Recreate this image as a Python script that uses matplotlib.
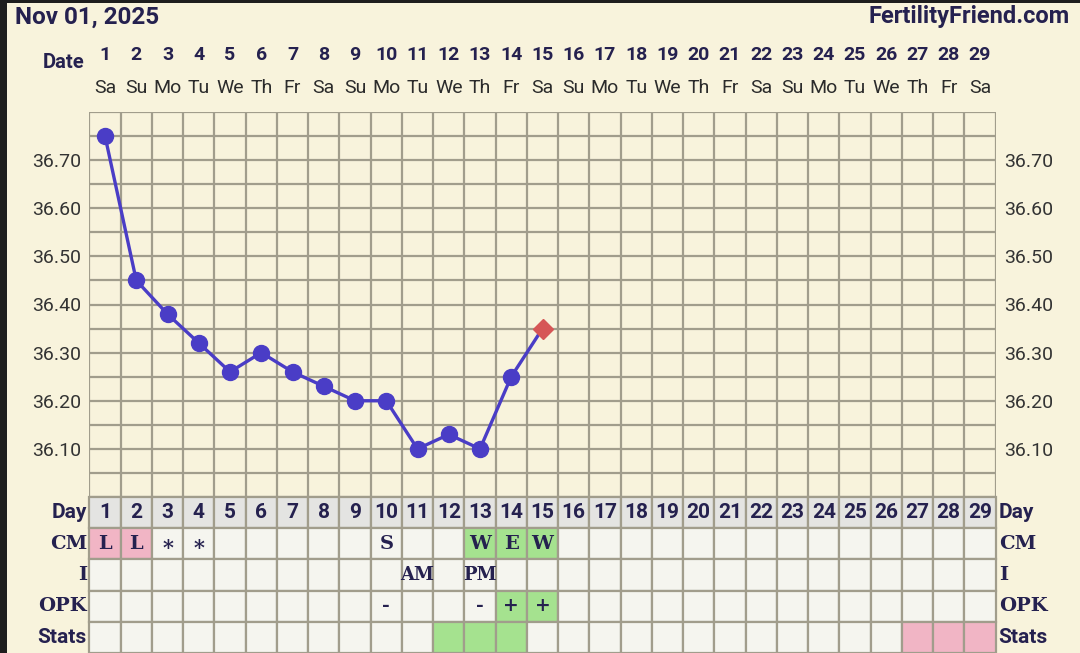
import matplotlib.pyplot as plt
from matplotlib.patches import Rectangle
import numpy as np

# chart data
days = list(range(1, 30))
weekdays = ["Sa", "Su", "Mo", "Tu", "We", "Th", "Fr"] * 5
temp_days = list(range(1, 16))
temps = [36.75, 36.45, 36.38, 36.32, 36.26, 36.30, 36.26, 36.23,
         36.20, 36.20, 36.10, 36.13, 36.10, 36.25, 36.35]
open_day = 15  # last reading drawn as diamond

cm_days = [1, 2, 3, 4, 10, 13, 14, 15]
cm_vals = ["L", "L", "*", "*", "S", "W", "E", "W"]
i_days = [11, 13]
i_vals = ["AM", "PM"]
opk_days = [10, 13, 14, 15]
opk_vals = ["-", "-", "+", "+"]
stats_green = [12, 13, 14]
stats_pink = [27, 28, 29]

BG = "#f8f3dc"
GRID = "#a19d8c"
INK = "#25214f"
LINE = "#4a3dc6"
PINK = "#f1b5c5"
GREEN = "#a5e28f"
CELL = "#f5f5ef"
HEAD = "#e4e4e2"

fig = plt.figure(figsize=(10.8, 6.53), dpi=100, facecolor=BG)
W, H = 1080, 653
x0, x1 = 89.4, 995.6
ytop, ymid = 112, 497

ax = fig.add_axes([x0 / W, (H - ymid) / H, (x1 - x0) / W, (ymid - ytop) / H])
ax.set_facecolor(BG)
ax.set_xlim(0.5, 29.5)
ax.set_ylim(36.0, 36.8)
for x in np.arange(0.5, 30, 1):
    ax.axvline(x, color=GRID, lw=1.6, zorder=1)
for y in np.arange(36.0, 36.81, 0.05):
    ax.axhline(y, color=GRID, lw=1.6, zorder=1)
for s in ax.spines.values():
    s.set_visible(False)
ax.set_xticks([])
ax.set_yticks(np.arange(36.1, 36.71, 0.1))
ax.set_yticklabels([f"{v:.2f}" for v in np.arange(36.1, 36.71, 0.1)],
                   fontsize=14, color="#333333", family="Roboto")
ax.tick_params(axis="y", length=0, pad=6, labelright=True)

ax.plot(temp_days, temps, color=LINE, lw=2.4, zorder=3)
ax.plot(temp_days[:-1], temps[:-1], "o", color=LINE, ms=11.5, zorder=4)
ax.plot([open_day], [temps[-1]], "D", color="#d65656", ms=10.5, zorder=4)

# header text
fig.text(15 / W, 1 - 17 / H, "Nov 01, 2025", fontsize=17.5, fontweight="bold",
         color=INK, family="Roboto", va="center")
fig.text(1070 / W, 1 - 17 / H, "FertilityFriend.com", fontsize=17, fontweight="bold",
         color=INK, family="Roboto", va="center", ha="right")
fig.text(84 / W, 1 - 63 / H, "Date", fontsize=14.5, fontweight="bold",
         color=INK, family="Roboto", va="center", ha="right")
for d, wd in zip(days, weekdays):
    xf = x0 / W + (d - 0.5) * (x1 - x0) / 29 / W
    fig.text(xf, 1 - 55 / H, str(d), fontsize=14, fontweight="bold", color=INK,
             family="Roboto", ha="center", va="center")
    fig.text(xf, 1 - 88 / H, wd, fontsize=14, color="#2b2b2b",
             family="Roboto", ha="center", va="center")

# table
tb = fig.add_axes([x0 / W, 0, (x1 - x0) / W, (H - ymid) / H])
tb.set_xlim(0.5, 29.5)
tb.set_ylim(5, 0)
tb.axis("off")

fills = {}
for d in days:
    fills[(0, d)] = HEAD
for d, v in zip(cm_days, cm_vals):
    if v == "L":
        fills[(1, d)] = PINK
    elif v in ("W", "E"):
        fills[(1, d)] = GREEN
for d, v in zip(opk_days, opk_vals):
    if v == "+":
        fills[(3, d)] = GREEN
for d in stats_green:
    fills[(4, d)] = GREEN
for d in stats_pink:
    fills[(4, d)] = PINK

for r in range(5):
    for d in days:
        tb.add_patch(Rectangle((d - 0.5, r), 1, 1, facecolor=fills.get((r, d), CELL),
                               edgecolor=GRID, lw=1.6, clip_on=False))

for d in days:
    tb.text(d, 0.5, str(d), fontsize=15, fontweight="bold", color=INK,
            family="Roboto", ha="center", va="center")
slab = dict(family="DejaVu Serif", fontweight="bold", color=INK, ha="center", va="center")
for d, v in zip(cm_days, cm_vals):
    if v == "*":
        tb.text(d, 1.62, v, fontsize=15, **slab)
    else:
        tb.text(d, 1.5, v, fontsize=14, **slab)
for d, v in zip(i_days, i_vals):
    tb.text(d, 2.5, v, fontsize=13, **slab)
for d, v in zip(opk_days, opk_vals):
    tb.text(d, 3.5, v, fontsize=13.5, **slab)

row_names = ["Day", "CM", "I", "OPK", "Stats"]
for r, name in enumerate(row_names):
    if name in ("Day", "Stats"):
        kw = dict(family="Roboto", fontweight="bold", color=INK, va="center")
        fs = 15
    else:
        kw = dict(family="DejaVu Serif", fontweight="bold", color=INK, va="center")
        fs = 14
    tb.text(0.42, r + 0.5, name, fontsize=fs, ha="right", **kw)
    tb.text(29.6, r + 0.5, name, fontsize=fs, ha="left", **kw)

# dark frame edges of the screenshot
fig.patches.append(Rectangle((0, 0), 7 / W, 1, transform=fig.transFigure,
                             facecolor="#1e1e1e", edgecolor="none"))
fig.patches.append(Rectangle((0, 1 - 3 / H), 1, 3 / H, transform=fig.transFigure,
                             facecolor="#1e1e1e", edgecolor="none"))

fig.savefig("out.png", dpi=100, facecolor=BG)
